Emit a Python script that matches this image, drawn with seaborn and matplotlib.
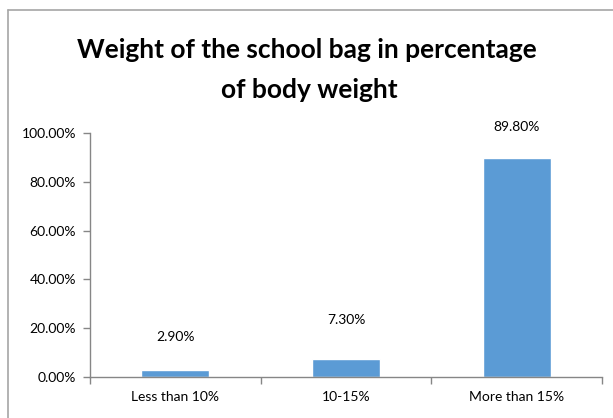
import matplotlib
matplotlib.use("Agg")
import matplotlib.pyplot as plt
import seaborn as sns
import pandas as pd
from matplotlib.lines import Line2D
from matplotlib.ticker import FuncFormatter, FixedLocator

categories = ["Less than 10%", "10-15%", "More than 15%"]
values = [2.90, 7.30, 89.80]
label_texts = ["2.90%", "7.30%", "89.80%"]

sns.set_theme(style="white")
plt.rcParams['font.family'] = ['Lato', 'DejaVu Sans']

df = pd.DataFrame({"cat": categories, "val": values})

fig = plt.figure(figsize=(6.13, 4.18), dpi=100)
ax = fig.add_axes([90/613, 41/418, (602-90)/613, (377-133)/418])

sns.barplot(data=df, x="cat", y="val", color="#5B9BD5", width=0.4,
            saturation=1, ax=ax)

ax.set_ylim(0, 100)
ax.set_xlim(-0.5, 2.5)
ax.set_yticks([0, 20, 40, 60, 80, 100])
ax.yaxis.set_major_formatter(FuncFormatter(lambda v, p: f"{v:.2f}%"))
ax.set_xlabel("")
ax.set_ylabel("")

for s in ["top", "right"]:
    ax.spines[s].set_visible(False)
for s in ["left", "bottom"]:
    ax.spines[s].set_color("#868686")
    ax.spines[s].set_linewidth(1.0)

ax.tick_params(axis="y", which="major", direction="out", length=5, width=1,
               color="#868686", labelsize=10, labelcolor="#000000", pad=5, left=True)
ax.tick_params(axis="x", which="major", length=0, labelsize=10, labelcolor="#000000", pad=10)
ax.xaxis.set_minor_locator(FixedLocator([-0.5, 0.5, 1.5, 2.5]))
ax.tick_params(axis="x", which="minor", direction="out", length=5, width=1,
               color="#868686", bottom=True)

# data labels (offsets in pixels above bar tops)
offsets_px = [33, 39, 31]
for i, (v, t) in enumerate(zip(values, label_texts)):
    ax.annotate(t, xy=(i, v), xytext=(0, offsets_px[i] * 72 / 100),
                textcoords="offset points", ha="center", va="center",
                fontsize=10, color="#000000")

fig.text(0.5, 1 - 50/418, "Weight of the school bag in percentage",
         ha="center", va="center", fontsize=19, fontweight="bold", color="#000000")
fig.text(0.5 + 3/613, 1 - 90/418, "of body weight",
         ha="center", va="center", fontsize=19, fontweight="bold", color="#000000")

# outer chart frame (partially visible)
fig.add_artist(Line2D([8/613, 1], [1 - 10/418, 1 - 10/418], transform=fig.transFigure,
                      color="#a6a6a6", linewidth=1.2))
fig.add_artist(Line2D([8/613, 8/613], [0, 1 - 10/418], transform=fig.transFigure,
                      color="#a6a6a6", linewidth=1.2))

fig.savefig("out.png", dpi=100)
